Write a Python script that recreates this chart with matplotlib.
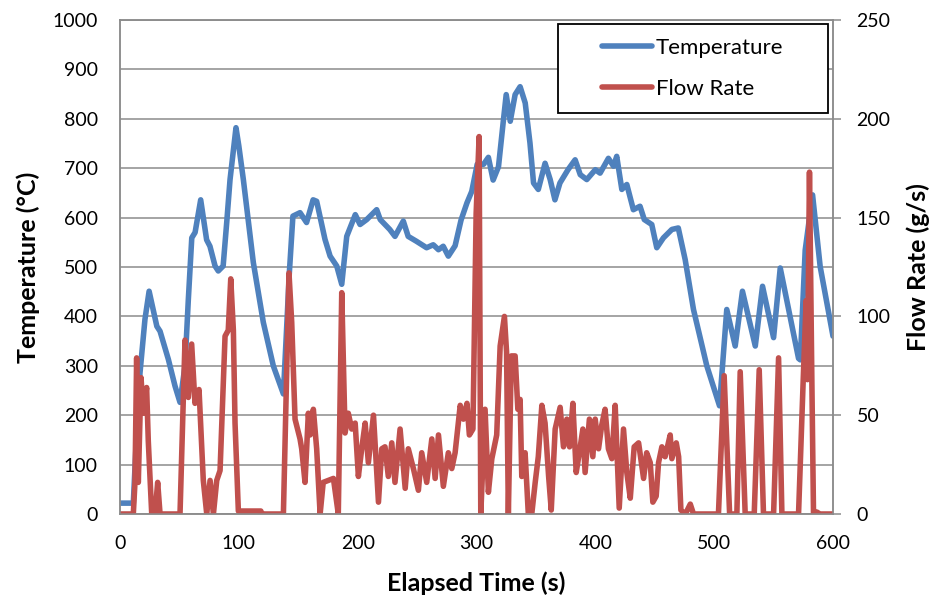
import matplotlib
matplotlib.use("Agg")
import matplotlib.pyplot as plt
from matplotlib.patches import Rectangle

# Temperature trace (s, °C)
temp_t = [0, 11.2, 13.5, 16.8, 21, 24.5, 31, 33.7, 40.7, 46.3, 50.5, 54.7, 57.5, 60.4,
          63.2, 67.9, 72.9, 75.7, 80, 82.7, 86.8, 89.8, 92.6, 97.6, 100, 103.8, 112.2,
          120.6, 129, 137.5, 142.5, 145.5, 151.5, 157, 162.5, 165.5, 172.5, 176.8, 182.4,
          186.6, 190.8, 198, 202, 207.6, 216, 219, 227, 231.4, 238.4, 242.5, 249.5, 258,
          263.6, 268, 272, 276.3, 282, 287, 292, 296, 300.6, 306, 310, 314, 318.5, 322.6,
          325, 328.4, 332.5, 336.7, 341, 345, 348, 352, 357.7, 362, 366, 370.2, 377, 383,
          387.3, 392.8, 400, 404, 411, 415.3, 418, 422.3, 426.5, 432, 437.6, 441.2, 447.5,
          451.7, 457.3, 464.4, 469.8, 475.6, 482.6, 493.8, 504.5, 510.6, 517.7, 523.8,
          534.6, 540.7, 550, 555.6, 571, 572.5, 576.6, 582.8, 589.2, 600]
temp_c = [22, 22, 140, 285, 394, 451, 380, 370, 313, 259, 226, 300, 434, 559,
          570, 636, 555, 542, 502, 492, 502, 590, 677, 782, 745, 677, 509,
          388, 300, 243, 488, 603, 610, 590, 636, 633, 556, 522, 502,
          465, 562, 606, 586, 596, 616, 596, 576, 562, 593, 562, 552, 539,
          545, 535, 542, 522, 543, 595, 630, 653, 708, 708, 722, 676, 703, 796,
          849, 795, 849, 865, 832, 751, 670, 657, 710, 677, 636, 670, 697, 717,
          687, 677, 697, 690, 720, 704, 724, 657, 667, 616, 623, 596, 586,
          539, 559, 576, 579, 515, 414, 300, 219, 414, 340, 451,
          340, 461, 357, 498, 315, 312, 534, 646, 501, 360]

# Flow rate trace (s, g/s)
flow_t = [0, 11.2, 12.6, 14, 15.4, 17.7, 19.6, 22.4, 23.8, 26.7, 29.5, 31.7, 33.7, 50.5,
          52.7, 54.7, 57.5, 60.3, 63.1, 66.5, 70.1, 73, 75.8, 78.6, 81.4, 84.2, 88.4,
          91.1, 93.2, 95.4, 96.8, 99.6, 118.5, 119.5, 137.5, 142.2, 144.5, 147.3, 151.5,
          152.9, 155.7, 158.5, 160, 162.7, 165.5, 168.4, 171, 175.3, 179.6, 183.7, 186.6,
          189.4, 192.1, 195, 197.9, 200.6, 203.4, 206.3, 209, 213.3, 217.5, 220.3, 223,
          225.8, 228.7, 231.4, 235.7, 240, 242.6, 246.9, 251.1, 253.9, 258.1, 262.4,
          265.2, 268, 272.1, 276.3, 279.2, 282, 286.3, 289, 292, 294, 297, 299.7, 302.2,
          303.6, 307.2, 310, 312.9, 317, 319.9, 323.5, 325.3, 326.8, 329.3, 332.5, 334.8,
          336.7, 338.1, 340.9, 343.6, 346.5, 349.4, 352, 355, 357.7, 360.7, 362.9, 366.2,
          370.4, 373.2, 376, 378.3, 381.1, 383.9, 387.3, 389.5, 391.4, 395, 397.9, 399.9,
          402.7, 405.4, 408.2, 411, 413.9, 416.7, 420.1, 423.7, 426.5, 429.4, 432.7,
          436.4, 440.6, 443.2, 446.2, 448.4, 451.2, 453.2, 456, 458.7, 460.7, 463, 464.4,
          468.1, 470.1, 472, 475.8, 479.9, 482.6, 503.6, 508.4, 513, 519.1, 521.9, 526.1,
          533.7, 537.9, 541.5, 550, 554.2, 557, 571, 575, 577.4, 578.5, 580.2, 582.2,
          583.6, 586.4, 589, 600]
flow_g = [0, 0, 16, 79, 16, 69, 51, 64, 37, 0, 0, 16, 0, 0,
          46, 88, 59, 86, 56, 63, 17, 0, 17, 0, 17, 22, 90,
          93, 119, 93, 46, 1.5, 1.5, 0, 0, 122, 97, 48, 38,
          33, 16, 51, 40, 53, 33, 0, 16, 17, 18, 0, 112,
          41, 51, 43, 46, 19, 33, 46, 26, 50, 6, 33, 34,
          19, 36, 16, 43, 13, 33, 23, 12, 31, 16, 38,
          18, 40, 14, 31, 23, 31, 55, 48, 56, 40, 43, 152, 191,
          0, 53, 11, 28, 40, 85, 100, 82, 0, 80, 80, 53,
          58, 19, 31, 0, 0, 16, 29, 55, 46, 19, 2, 43,
          54, 34, 48, 34, 56, 21, 34, 43, 21, 48, 29, 48,
          33, 45, 53, 33, 28, 55, 3, 43, 21, 8, 34,
          36, 18, 31, 26, 6, 9, 26, 34, 29, 34, 40, 28,
          36, 29, 2, 0, 5, 0, 0, 70, 0, 0, 72, 0,
          0, 73, 0, 0, 79, 0, 0, 69, 108, 68, 173, 68,
          0, 1, 0, 0]

x_ticks = [0, 100, 200, 300, 400, 500, 600]
temp_ticks = [0, 100, 200, 300, 400, 500, 600, 700, 800, 900, 1000]
flow_ticks = [0, 50, 100, 150, 200, 250]

BLUE = "#4F81BD"
RED = "#C0504D"
GRID = "#8C8C8C"

plt.rcParams["font.family"] = ["Lato", "DejaVu Sans"]

fig = plt.figure(figsize=(9.33, 6.01), dpi=100)
ax = fig.add_axes([120 / 933, 87 / 601, 713 / 933, 494 / 601])
ax2 = ax.twinx()

ax.plot(temp_t, temp_c, color=BLUE, lw=4.0, solid_joinstyle="round",
        solid_capstyle="round", label="Temperature")
ax2.plot(flow_t, flow_g, color=RED, lw=4.0, solid_joinstyle="round",
         solid_capstyle="round", label="Flow Rate")

ax.set_xlim(0, 600)
ax.set_ylim(0, 1000)
ax2.set_ylim(0, 250)
ax.set_xticks(x_ticks)
ax.set_yticks(temp_ticks)
ax2.set_yticks(flow_ticks)

ax.grid(axis="y", color=GRID, lw=1.1)
ax.set_axisbelow(True)

for a in (ax, ax2):
    for s in a.spines.values():
        s.set_color(GRID)
        s.set_linewidth(1.1)

ax.tick_params(axis="y", length=0, pad=16, labelsize=14)
ax.tick_params(axis="x", length=0, pad=15, labelsize=14)
ax2.tick_params(axis="y", length=6, width=1.1, color=GRID, pad=11, labelsize=14)

ax.set_xlabel("Elapsed Time (s)", fontsize=18, fontweight="bold")
ax.set_ylabel("Temperature (°C)", fontsize=18, fontweight="bold")
ax2.set_ylabel("Flow Rate (g/s)", fontsize=18, fontweight="bold")
ax.xaxis.set_label_coords(0.5, -0.14)
ax.xaxis.label.set_va("center")
ax.yaxis.set_label_coords(-0.129, 0.5)
ax.yaxis.label.set_va("center")
ax2.yaxis.set_label_coords(1.119, 0.5)
ax2.yaxis.label.set_va("center")

# Legend box with black border
box = Rectangle((0.614, 0.812), 0.379, 0.18, transform=ax2.transAxes,
                facecolor="white", edgecolor="black", lw=1.3, zorder=10)
ax2.add_patch(box)
h1, l1 = ax.get_legend_handles_labels()
h2, l2 = ax2.get_legend_handles_labels()
leg = ax2.legend(h1 + h2, l1 + l2, loc="center", bbox_to_anchor=(0.8035, 0.902),
                 frameon=False, fontsize=16, handlelength=2.25, handletextpad=0.15,
                 labelspacing=0.95, borderpad=0)
leg.set_zorder(11)

fig.savefig("out.png", dpi=100)
